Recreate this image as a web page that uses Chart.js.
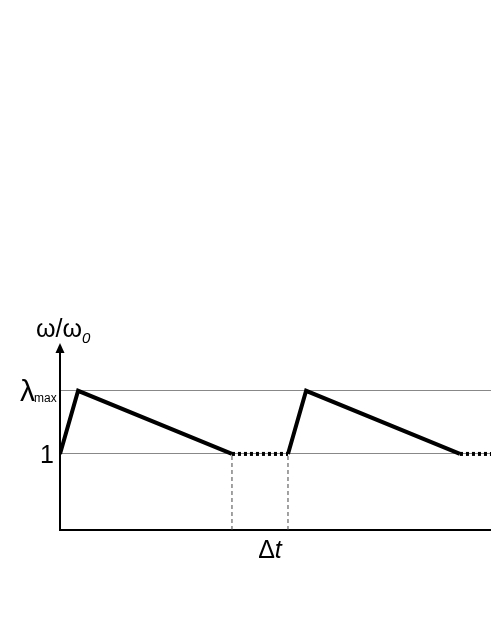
<!DOCTYPE html>
<html>
<head>
<meta charset="utf-8">
<script src="https://cdn.jsdelivr.net/npm/chart.js@4"></script>
<style>
  html, body { margin: 0; padding: 0; background: #fff; }
  #wrap { width: 491px; height: 635px; }
</style>
</head>
<body>
<div id="wrap"><canvas id="chart"></canvas></div>
<script>
// sawtooth pieces, x in time units (0..100), y in ω/ω0
const rise1X = [0, 4.2, 39.9]
const rise1Y = [1, 1.83, 1]
const rest1X = [39.9, 52.9]
const rest1Y = [1, 1]
const rise2X = [52.9, 57.1, 92.8]
const rise2Y = [1, 1.83, 1]
const rest2X = [92.8, 100]
const rest2Y = [1, 1]
// dashed markers for Δt
const markerX = [39.9, 52.9]

const yTickValues = [1, 1.83]
const yTickLabels = ['1', 'λmax']

const toPoints = (xs, ys) => xs.map((x, i) => ({ x: x, y: ys[i] }))

const datasets = [
  { data: toPoints(rise1X, rise1Y), borderColor: '#000', borderWidth: 4 },
  { data: toPoints(rest1X, rest1Y), borderColor: '#000', borderWidth: 4, borderDash: [3, 3] },
  { data: toPoints(rise2X, rise2Y), borderColor: '#000', borderWidth: 4 },
  { data: toPoints(rest2X, rest2Y), borderColor: '#000', borderWidth: 4, borderDash: [3, 3] }
]
markerX.forEach(x => {
  datasets.push({
    data: [{ x: x, y: 0 }, { x: x, y: 1 }],
    borderColor: '#444', borderWidth: 1, borderDash: [4, 3]
  })
})
datasets.forEach(d => { d.pointRadius = 0; d.fill = false; d.tension = 0 })

// axis arrow and the text labels
const labelsPlugin = {
  id: 'labels',
  afterDraw(chart) {
    const ctx = chart.ctx
    const xs = chart.scales.x
    const ys = chart.scales.y
    const left = chart.chartArea.left
    const top = chart.chartArea.top
    ctx.save()
    ctx.fillStyle = '#000'
    // arrow head
    ctx.beginPath()
    ctx.moveTo(left - 4.5, top + 1)
    ctx.lineTo(left + 4.5, top + 1)
    ctx.lineTo(left, top - 9)
    ctx.closePath()
    ctx.fill()

    ctx.textBaseline = 'alphabetic'
    // y title ω/ω0
    ctx.font = '25px "Liberation Sans", Arial, sans-serif'
    ctx.textAlign = 'left'
    ctx.fillText('ω/ω', 36, 337)
    ctx.font = 'italic 15px "Liberation Sans", Arial, sans-serif'
    ctx.fillText('0', 82, 343)

    // tick labels
    const y1 = ys.getPixelForValue(yTickValues[0])
    ctx.font = '25px "Liberation Sans", Arial, sans-serif'
    ctx.textAlign = 'right'
    ctx.fillText(yTickLabels[0], 54, y1 + 9)

    const yl = ys.getPixelForValue(yTickValues[1])
    ctx.textAlign = 'left'
    ctx.font = '30px "Liberation Sans", Arial, sans-serif'
    ctx.fillText(yTickLabels[1].charAt(0), 20, yl + 10)
    const lw = ctx.measureText(yTickLabels[1].charAt(0)).width
    ctx.font = '12px "Liberation Sans", Arial, sans-serif'
    ctx.fillText(yTickLabels[1].slice(1), 19 + lw, yl + 11)

    // Δt
    const xm = (xs.getPixelForValue(markerX[0]) + xs.getPixelForValue(markerX[1])) / 2
    ctx.font = '25px "Liberation Sans", Arial, sans-serif'
    ctx.textAlign = 'left'
    const dw = ctx.measureText('Δ').width
    ctx.font = 'italic 25px "Liberation Sans", Arial, sans-serif'
    const tw = ctx.measureText('t').width
    const x0 = xm + 10 - (dw + tw) / 2
    ctx.font = '25px "Liberation Sans", Arial, sans-serif'
    ctx.fillText('Δ', x0, 558)
    ctx.font = 'italic 25px "Liberation Sans", Arial, sans-serif'
    ctx.fillText('t', x0 + dw, 558)
    ctx.restore()
  }
}

new Chart(document.getElementById('chart'), {
  type: 'line',
  data: { datasets: datasets },
  options: {
    responsive: true,
    maintainAspectRatio: false,
    animation: false,
    layout: { padding: { left: 60, right: 0, top: 352, bottom: 105 } },
    plugins: { legend: { display: false }, tooltip: { enabled: false } },
    scales: {
      x: {
        type: 'linear',
        min: 0,
        max: 100,
        grid: { display: false, drawTicks: false },
        border: { display: true, color: '#000', width: 2 },
        ticks: { display: false }
      },
      y: {
        type: 'linear',
        min: 0,
        max: 2.34,
        afterBuildTicks: axis => { axis.ticks = yTickValues.map(v => ({ value: v })) },
        grid: { color: '#888', lineWidth: 1, drawTicks: false },
        border: { display: true, color: '#000', width: 2 },
        ticks: { display: false }
      }
    }
  },
  plugins: [labelsPlugin]
})
</script>
</body>
</html>
